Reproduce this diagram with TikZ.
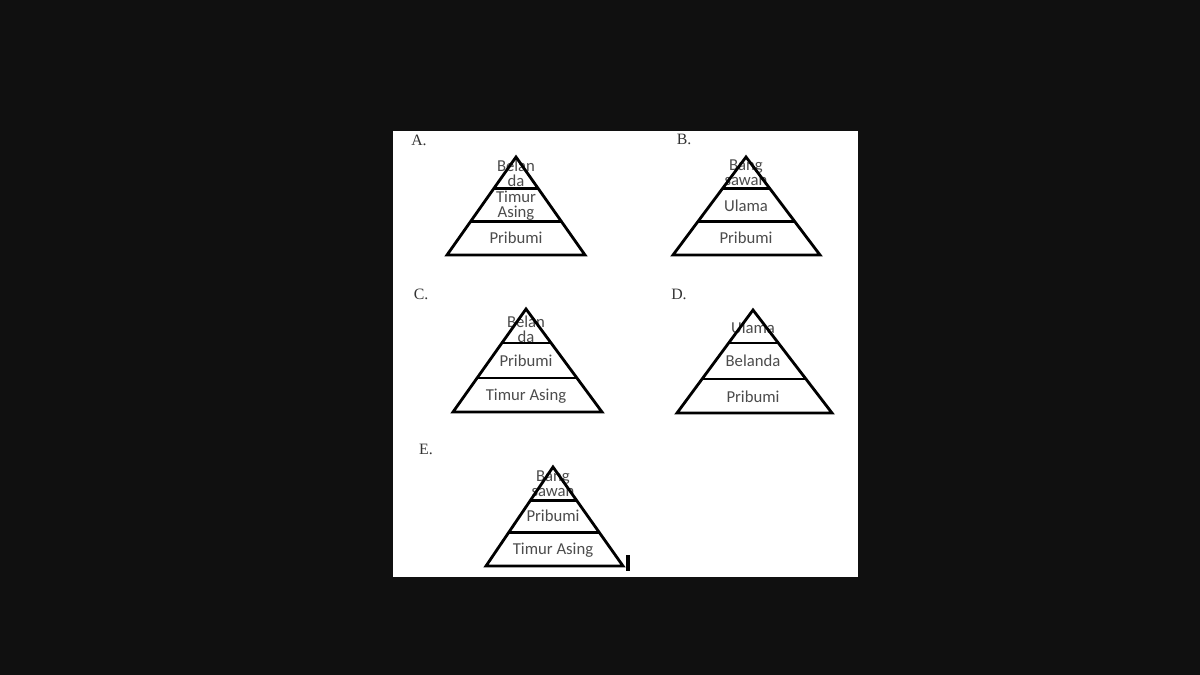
\documentclass[tikz,border=0pt]{standalone}
\usepackage{fontspec}
\setmainfont{Liberation Serif}
\newfontfamily\layerfont{Carlito}
\usetikzlibrary{calc}
\definecolor{screen}{RGB}{16,16,16}

\begin{document}
\begin{tikzpicture}[x=0.02cm,y=-0.02cm,line join=miter]
  \tikzset{edge/.style={line width=1.6pt,draw=black},
    layer/.style={font=\layerfont\fontsize{9.5}{8.5}\selectfont,text=black!70,align=center,inner sep=0pt},
    letter/.style={font=\fontsize{9}{10}\selectfont,text=black!80,inner sep=0pt}}

  \fill[screen] (0,0) rectangle (1200,675);
  \fill[white] (393,131) rectangle (858,577);

  % A
  \node[letter] (optA) at (419,140) {A.};
  \coordinate (topA) at (516,157);
  \coordinate (leftA) at (447,255);
  \coordinate (rightA) at (585,255);
  \node[layer] (a1) at (516,173) {Belan\\da};
  \node[layer] (a2) at (516,206) {Timur\\Asing};
  \node[layer] (a3) at (516,238) {Pribumi};
  \draw[edge] (topA) -- (leftA) -- (rightA) -- cycle;
  \draw[edge] ($(topA)!0.32!(leftA)$) -- ($(topA)!0.32!(rightA)$);
  \draw[edge] ($(topA)!0.66!(leftA)$) -- ($(topA)!0.66!(rightA)$);

  % B
  \node[letter] (optB) at (684,139) {B.};
  \coordinate (topB) at (746,157);
  \coordinate (leftB) at (673,255);
  \coordinate (rightB) at (820,255);
  \node[layer] (b1) at (746,173) {Bang\\sawan};
  \node[layer] (b2) at (746,206) {Ulama};
  \node[layer] (b3) at (746,238) {Pribumi};
  \draw[edge] (topB) -- (leftB) -- (rightB) -- cycle;
  \draw[edge] ($(topB)!0.32!(leftB)$) -- ($(topB)!0.32!(rightB)$);
  \draw[edge] ($(topB)!0.66!(leftB)$) -- ($(topB)!0.66!(rightB)$);

  % C
  \node[letter] (optC) at (421,294) {C.};
  \coordinate (topC) at (526,309);
  \coordinate (leftC) at (453,412);
  \coordinate (rightC) at (602,412);
  \node[layer] (c1) at (526,329) {Belan\\da};
  \node[layer] (c2) at (526,361) {Pribumi};
  \node[layer] (c3) at (526,396) {Timur Asing};
  \draw[edge] (topC) -- (leftC) -- (rightC) -- cycle;
  \draw[edge] ($(topC)!0.33!(leftC)$) -- ($(topC)!0.33!(rightC)$);
  \draw[edge] ($(topC)!0.67!(leftC)$) -- ($(topC)!0.67!(rightC)$);

  % D
  \node[letter] (optD) at (679,294) {D.};
  \coordinate (topD) at (753,310);
  \coordinate (leftD) at (677,413);
  \coordinate (rightD) at (832,413);
  \node[layer] (d1) at (753,328) {Ulama};
  \node[layer] (d2) at (753,361) {Belanda};
  \node[layer] (d3) at (753,397) {Pribumi};
  \draw[edge] (topD) -- (leftD) -- (rightD) -- cycle;
  \draw[edge] ($(topD)!0.32!(leftD)$) -- ($(topD)!0.32!(rightD)$);
  \draw[edge] ($(topD)!0.67!(leftD)$) -- ($(topD)!0.67!(rightD)$);

  % E
  \node[letter] (optE) at (426,449) {E.};
  \coordinate (topE) at (553,467);
  \coordinate (leftE) at (486,566);
  \coordinate (rightE) at (623,566);
  \node[layer] (e1) at (553,484) {Bang\\sawan};
  \node[layer] (e2) at (553,516) {Pribumi};
  \node[layer] (e3) at (553,550) {Timur Asing};
  \draw[edge] (topE) -- (leftE) -- (rightE) -- cycle;
  \draw[edge] ($(topE)!0.34!(leftE)$) -- ($(topE)!0.34!(rightE)$);
  \draw[edge] ($(topE)!0.66!(leftE)$) -- ($(topE)!0.66!(rightE)$);
  \draw[line width=1.8pt] (628,555) -- (628,571);
\end{tikzpicture}
\end{document}
